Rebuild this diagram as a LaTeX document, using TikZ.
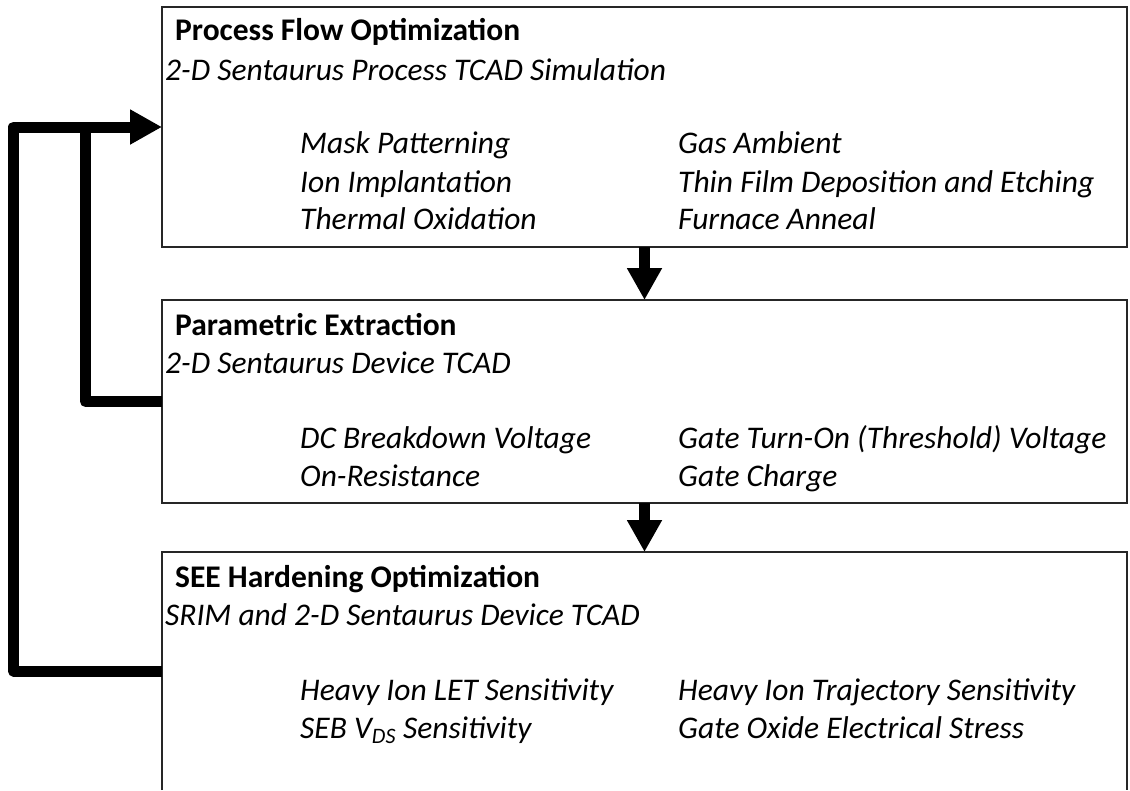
\documentclass[tikz,border=0pt]{standalone}
\usepackage{fontspec}
\setmainfont{Carlito}
\usetikzlibrary{arrows.meta}
\newcommand{\stageFont}{\fontsize{31.5}{37}\selectfont}
\tikzset{
  stage/.style={draw=black!85, line width=1.4pt, minimum width=965pt, inner sep=0pt, outer sep=0pt, anchor=north west},
  flow/.style={line width=11pt, line join=round, -{Triangle[width=33pt,length=32pt]}},
  feedback/.style={line width=11pt, line join=round},
  stagetitle/.style={anchor=base west, inner sep=0pt, font=\stageFont\bfseries},
  stagetool/.style={anchor=base west, inner sep=0pt, font=\stageFont\itshape},
  stageitem/.style={anchor=base west, inner sep=0pt, font=\stageFont\itshape}
}
\begin{document}
\begin{tikzpicture}[x=1pt,y=-1pt]
      \useasboundingbox (0,0) rectangle (1130,790);

      % three stages stacked top to bottom, the last one runs off the page
      \node[stage, minimum height=240pt] (flowbox) at (162,7) {};
      \node[stage, minimum height=203pt] (parambox) at (162,300) {};
      \node[stage, draw=none, minimum height=238pt] (seebox) at (162,552) {};
      \draw[black!85, line width=1.4pt] (seebox.south west) -- (seebox.north west)
            -- (seebox.north east) -- (seebox.south east);

      % Process flow stage
      \node[stagetitle] (flowtitle) at (175,40) {Process Flow Optimization};
      \node[stagetool] (flowtool) at (165,80) {2-D Sentaurus Process TCAD Simulation};
      \node[stageitem] (mask) at (300,153) {Mask Patterning};
      \node[stageitem] (implant) at (300,192) {Ion Implantation};
      \node[stageitem] (oxid) at (300,229) {Thermal Oxidation};
      \node[stageitem] (gas) at (678,153) {Gas Ambient};
      \node[stageitem] (film) at (678,192) {Thin Film Deposition and Etching};
      \node[stageitem] (anneal) at (678,229) {Furnace Anneal};

      % Parametric stage
      \node[stagetitle] (paramtitle) at (175,335) {Parametric Extraction};
      \node[stagetool] (paramtool) at (165,373) {2-D Sentaurus Device TCAD};
      \node[stageitem] (breakdown) at (300,448) {DC Breakdown Voltage};
      \node[stageitem] (ron) at (300,486) {On-Resistance};
      \node[stageitem] (vth) at (678,448) {Gate Turn-On (Threshold) Voltage};
      \node[stageitem] (qg) at (678,486) {Gate Charge};

      % SEE stage
      \node[stagetitle] (seetitle) at (175,587) {SEE Hardening Optimization};
      \node[stagetool] (seetool) at (165,625) {SRIM and 2-D Sentaurus Device TCAD};
      \node[stageitem] (let) at (300,700) {Heavy Ion LET Sensitivity};
      \node[stageitem] (vds) at (300,738) {SEB V\textsubscript{DS} Sensitivity};
      \node[stageitem] (traj) at (678,700) {Heavy Ion Trajectory Sensitivity};
      \node[stageitem] (oxstress) at (678,738) {Gate Oxide Electrical Stress};

      % forward arrows
      \draw[flow] (flowbox.south) -- (parambox.north);
      \draw[flow] (parambox.south) -- (seebox.north);

      % feedback loops back to the process stage
      \coordinate (outer) at (13.5,0);
      \coordinate (inner) at (85.5,0);
      \draw[flow] (seebox.west) -- (seebox.west -| outer) -- (outer |- flowbox.west) -- (flowbox.west);
      \draw[feedback] (parambox.west) -- (parambox.west -| inner) -- (inner |- flowbox.west);

\end{tikzpicture}
\end{document}
